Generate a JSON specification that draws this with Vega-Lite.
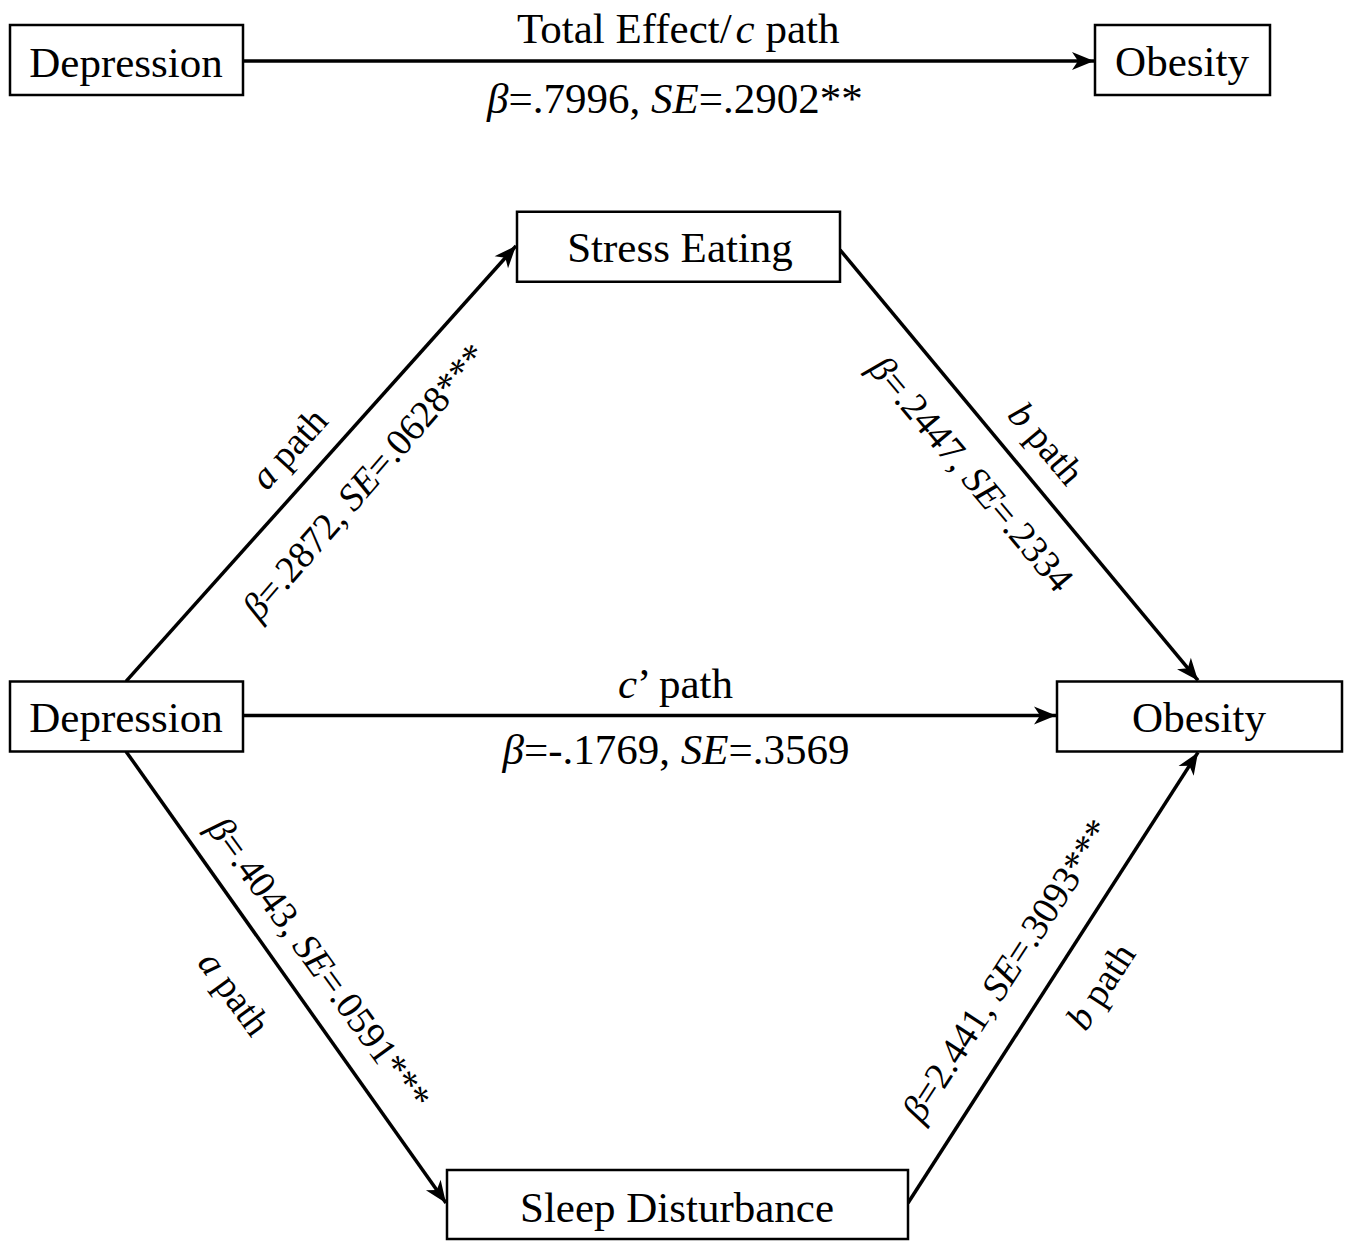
{
  "$schema": "https://vega.github.io/schema/vega-lite/v6.json",
  "width": 1350,
  "height": 1241,
  "autosize": {"type": "fit", "contains": "padding"},
  "padding": 0,
  "background": "white",
  "config": {"view": {"stroke": null}},
  "datasets": {
    "nodes": [
      {"node": "Depression (total)", "label": "Depression", "x1": 10, "x2": 243, "y1": 25, "y2": 95, "cx": 126, "cy": 64},
      {"node": "Obesity (total)", "label": "Obesity", "x1": 1095, "x2": 1270, "y1": 25, "y2": 95, "cx": 1182, "cy": 63},
      {"node": "Stress Eating", "label": "Stress Eating", "x1": 517, "x2": 840, "y1": 212, "y2": 282, "cx": 680, "cy": 249},
      {"node": "Depression", "label": "Depression", "x1": 10, "x2": 243, "y1": 682, "y2": 752, "cx": 126, "cy": 720},
      {"node": "Obesity", "label": "Obesity", "x1": 1057, "x2": 1342, "y1": 682, "y2": 752, "cx": 1199, "cy": 720},
      {"node": "Sleep Disturbance", "label": "Sleep Disturbance", "x1": 447, "x2": 908, "y1": 1171, "y2": 1240, "cx": 677, "cy": 1210}
    ],
    "edges": [
      {"edge": "total c", "x1": 243, "y1": 61, "x2": 1094, "y2": 61, "dir": 90},
      {"edge": "a stress", "x1": 126, "y1": 682, "x2": 516, "y2": 246, "dir": 41.8},
      {"edge": "b stress", "x1": 840, "y1": 250, "x2": 1198, "y2": 681, "dir": 140.3},
      {"edge": "c prime", "x1": 243, "y1": 716, "x2": 1056, "y2": 716, "dir": 90},
      {"edge": "a sleep", "x1": 126, "y1": 752, "x2": 446, "y2": 1204, "dir": 144.7},
      {"edge": "b sleep", "x1": 908, "y1": 1204, "x2": 1198, "y2": 753, "dir": 32.7}
    ],
    "pieces": [
      {"text": "Total Effect/", "x": 517, "y": 30, "angle": 0, "size": 43, "italic": false},
      {"text": "c", "x": 735.5, "y": 30, "angle": 0, "size": 43, "italic": true},
      {"text": "path", "x": 765.4, "y": 30, "angle": 0, "size": 43, "italic": false},
      {"text": "β", "x": 487, "y": 100, "angle": 0, "size": 43, "italic": true},
      {"text": "=.7996,", "x": 508.5, "y": 100, "angle": 0, "size": 43, "italic": false},
      {"text": "SE", "x": 651, "y": 100, "angle": 0, "size": 43, "italic": true},
      {"text": "=.2902**", "x": 698.8, "y": 100, "angle": 0, "size": 43, "italic": false},
      {"text": "c", "x": 618, "y": 686, "angle": 0, "size": 43, "italic": true},
      {"text": "’ path", "x": 637.1, "y": 686, "angle": 0, "size": 43, "italic": false},
      {"text": "β", "x": 502.5, "y": 752, "angle": 0, "size": 43, "italic": true},
      {"text": "=-.1769,", "x": 524, "y": 752, "angle": 0, "size": 43, "italic": false},
      {"text": "SE", "x": 680.8, "y": 752, "angle": 0, "size": 43, "italic": true},
      {"text": "=.3569", "x": 728.6, "y": 752, "angle": 0, "size": 43, "italic": false},
      {"text": "a", "x": 258.6, "y": 484.9, "angle": -48, "size": 38, "italic": true},
      {"text": "path", "x": 277.7, "y": 463.7, "angle": -48, "size": 38, "italic": false},
      {"text": "β", "x": 250.9, "y": 615.5, "angle": -49, "size": 38, "italic": true},
      {"text": "=.2872,", "x": 263.4, "y": 601.2, "angle": -49, "size": 38, "italic": false},
      {"text": "SE", "x": 346.0, "y": 506.1, "angle": -49, "size": 38, "italic": true},
      {"text": "=.0628***", "x": 373.6, "y": 474.2, "angle": -49, "size": 38, "italic": false},
      {"text": "b", "x": 1014.8, "y": 409.0, "angle": 50, "size": 38, "italic": true},
      {"text": "path", "x": 1033.1, "y": 430.8, "angle": 50, "size": 38, "italic": false},
      {"text": "β", "x": 875.5, "y": 362.4, "angle": 50, "size": 38, "italic": true},
      {"text": "=.2447,", "x": 887.7, "y": 377.0, "angle": 50, "size": 38, "italic": false},
      {"text": "SE", "x": 968.7, "y": 473.4, "angle": 50, "size": 38, "italic": true},
      {"text": "=.2334", "x": 995.8, "y": 505.7, "angle": 50, "size": 38, "italic": false},
      {"text": "β", "x": 214.8, "y": 823.0, "angle": 54, "size": 38, "italic": true},
      {"text": "=.4043,", "x": 226.0, "y": 838.4, "angle": 54, "size": 38, "italic": false},
      {"text": "SE", "x": 300.0, "y": 940.2, "angle": 54, "size": 38, "italic": true},
      {"text": "=.0591***", "x": 324.8, "y": 974.4, "angle": 54, "size": 38, "italic": false},
      {"text": "a", "x": 205.4, "y": 957.0, "angle": 54, "size": 38, "italic": true},
      {"text": "path", "x": 222.2, "y": 980.1, "angle": 54, "size": 38, "italic": false},
      {"text": "β", "x": 912.4, "y": 1119.2, "angle": -57, "size": 38, "italic": true},
      {"text": "=2.441,", "x": 922.8, "y": 1103.3, "angle": -57, "size": 38, "italic": false},
      {"text": "SE", "x": 991.4, "y": 997.6, "angle": -57, "size": 38, "italic": true},
      {"text": "=.3093***", "x": 1014.4, "y": 962.2, "angle": -57, "size": 38, "italic": false},
      {"text": "b", "x": 1076.4, "y": 1027.4, "angle": -57, "size": 38, "italic": true},
      {"text": "path", "x": 1091.9, "y": 1003.5, "angle": -57, "size": 38, "italic": false}
    ]
  },
  "layer": [
    {
      "data": {"name": "edges"},
      "mark": {"type": "rule", "color": "black", "strokeWidth": 3.5},
      "encoding": {
        "x": {"field": "x1", "type": "quantitative", "scale": {"domain": [0, 1350]}, "axis": null},
        "y": {"field": "y1", "type": "quantitative", "scale": {"domain": [0, 1241], "reverse": true}, "axis": null},
        "x2": {"field": "x2"},
        "y2": {"field": "y2"}
      }
    },
    {
      "data": {"name": "nodes"},
      "mark": {"type": "rect", "fill": "white", "stroke": "black", "strokeWidth": 2.5},
      "encoding": {
        "x": {"field": "x1", "type": "quantitative", "scale": {"domain": [0, 1350]}, "axis": null},
        "x2": {"field": "x2"},
        "y": {"field": "y1", "type": "quantitative", "scale": {"domain": [0, 1241], "reverse": true}, "axis": null},
        "y2": {"field": "y2"}
      }
    },
    {
      "data": {"name": "edges"},
      "mark": {"type": "point", "shape": "M0,0 L0.9,2.2 L0,1.6 L-0.9,2.2 Z", "filled": true, "color": "black", "opacity": 1, "size": 400},
      "encoding": {
        "x": {"field": "x2", "type": "quantitative", "scale": {"domain": [0, 1350]}, "axis": null},
        "y": {"field": "y2", "type": "quantitative", "scale": {"domain": [0, 1241], "reverse": true}, "axis": null},
        "angle": {"field": "dir", "type": "quantitative", "scale": null}
      }
    },
    {
      "data": {"name": "nodes"},
      "mark": {"type": "text", "font": "Liberation Serif", "fontSize": 43, "color": "black", "align": "center", "baseline": "middle"},
      "encoding": {
        "x": {"field": "cx", "type": "quantitative", "scale": {"domain": [0, 1350]}, "axis": null},
        "y": {"field": "cy", "type": "quantitative", "scale": {"domain": [0, 1241], "reverse": true}, "axis": null},
        "text": {"field": "label"}
      }
    },
    {
      "data": {"name": "pieces"},
      "transform": [{"filter": "datum.italic"}],
      "mark": {"type": "text", "font": "Liberation Serif", "fontStyle": "italic", "color": "black", "align": "left", "baseline": "middle"},
      "encoding": {
        "x": {"field": "x", "type": "quantitative", "scale": {"domain": [0, 1350]}, "axis": null},
        "y": {"field": "y", "type": "quantitative", "scale": {"domain": [0, 1241], "reverse": true}, "axis": null},
        "text": {"field": "text"},
        "angle": {"field": "angle", "type": "quantitative", "scale": null},
        "size": {"field": "size", "type": "quantitative", "scale": null}
      }
    },
    {
      "data": {"name": "pieces"},
      "transform": [{"filter": "!datum.italic"}],
      "mark": {"type": "text", "font": "Liberation Serif", "color": "black", "align": "left", "baseline": "middle"},
      "encoding": {
        "x": {"field": "x", "type": "quantitative", "scale": {"domain": [0, 1350]}, "axis": null},
        "y": {"field": "y", "type": "quantitative", "scale": {"domain": [0, 1241], "reverse": true}, "axis": null},
        "text": {"field": "text"},
        "angle": {"field": "angle", "type": "quantitative", "scale": null},
        "size": {"field": "size", "type": "quantitative", "scale": null}
      }
    }
  ]
}
